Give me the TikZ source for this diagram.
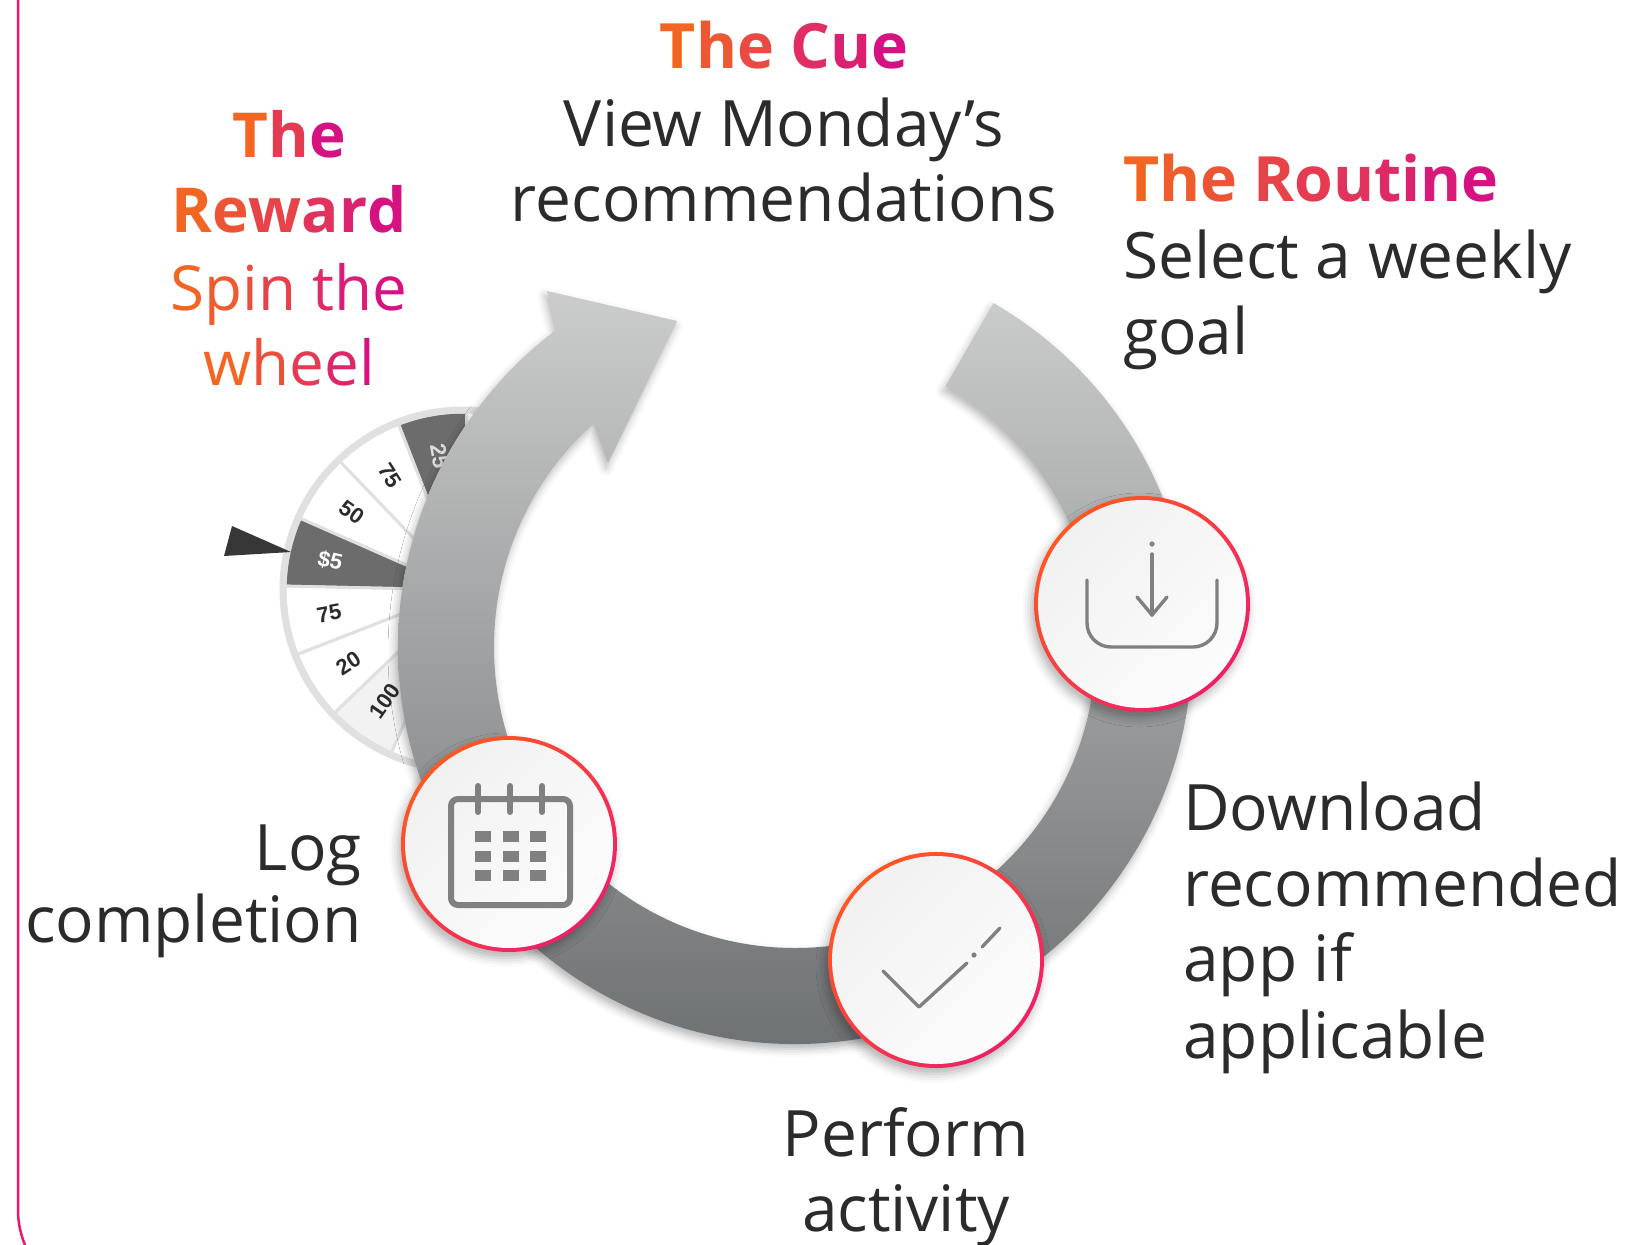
\documentclass[tikz,border=0pt]{standalone}
\usepackage{fontspec}
\setmainfont{Open Sans}
\newfontfamily\wheelfont{Liberation Sans}
\usetikzlibrary{calc,shadows.blur}

\definecolor{warmorange}{RGB}{243,101,35}
\definecolor{hotpink}{RGB}{214,18,130}
\definecolor{bodytext}{RGB}{43,43,43}
\definecolor{framepink}{RGB}{237,22,104}
\definecolor{ringtop}{RGB}{203,204,204}
\definecolor{ringbottom}{RGB}{104,107,109}
\definecolor{icongray}{RGB}{128,128,128}
\definecolor{badgeorange}{RGB}{255,87,34}
\definecolor{badgepink}{RGB}{240,30,105}
\definecolor{faceA}{RGB}{241,241,241}
\definecolor{faceB}{RGB}{252,252,252}
\definecolor{wheeldark}{RGB}{108,108,108}
\definecolor{wheelrim}{RGB}{224,224,224}
\definecolor{wheellight}{RGB}{242,242,242}
\definecolor{pointerdark}{RGB}{55,55,55}

\newcommand\bodysize{\fontsize{64}{75}\selectfont}
\newcommand\titlesize{\bfseries\fontsize{62.5}{75}\selectfont}
\newcommand\rewardbold{\bfseries\fontsize{62}{75}\selectfont}
\newcommand\rewardsize{\fontsize{62}{75}\selectfont}

% colour each character of a line along an orange-to-pink ramp
\ExplSyntaxOn
\int_new:N \l_ramp_count_int
\int_new:N \l_ramp_index_int
\int_new:N \l_ramp_pct_int
\tl_new:N \l_ramp_text_tl
\NewDocumentCommand \ramptext { m }
  {
    \tl_set:Nn \l_ramp_text_tl {#1}
    \tl_replace_all:Nnn \l_ramp_text_tl { ~ } { \  }
    \int_set:Nn \l_ramp_count_int { \tl_count:N \l_ramp_text_tl }
    \int_zero:N \l_ramp_index_int
    \tl_map_inline:Nn \l_ramp_text_tl
      {
        \int_set:Nn \l_ramp_pct_int
          { \int_div_round:nn { 100 * \l_ramp_index_int } { \int_max:nn {1} { \l_ramp_count_int - 1 } } }
        \color{hotpink!\int_use:N \l_ramp_pct_int!warmorange}##1
        \int_incr:N \l_ramp_index_int
      }
  }
\ExplSyntaxOff

\tikzset{
  bodytxt/.style={inner sep=0pt, text=bodytext, font=\bodysize},
  ramptxt/.style={inner sep=0pt},
  ringbody/.style={top color=ringtop, bottom color=ringbottom,
    blur shadow={shadow xshift=-2pt, shadow yshift=-5pt, shadow blur radius=8pt, shadow opacity=30}},
  badge/.style={circle, inner sep=0pt, minimum size=216pt,
    top color=badgeorange, bottom color=badgepink, shading angle=45,
    blur shadow={shadow xshift=-3pt, shadow yshift=-6pt, shadow blur radius=9pt, shadow opacity=30}},
  badgeface/.style={top color=faceA, bottom color=faceB, shading angle=45},
  iconline/.style={draw=icongray, line width=3.4pt, line cap=round, line join=round},
  calline/.style={draw=icongray, line width=6pt, line cap=round},
  wheelseg/.style={draw=wheelrim, line width=3pt},
  wheellabel/.style={inner sep=0pt, font=\wheelfont\bfseries\fontsize{22}{22}\selectfont},
}

\begin{document}
\begin{tikzpicture}[x=1pt, y=1pt]
  \clip (0,0) rectangle (1628,-1245);

  % frame edge on the left
  \draw[framepink, line width=2.5pt] (18,5) -- (18,-1210) arc[start angle=180, end angle=240, radius=91];

  \coordinate (C) at (795,-647);
  \coordinate (W) at (463,-590);

  % prize wheel, visible only outside the loop
  \begin{scope}[even odd rule]
    \clip (0,0) rectangle (1628,-1245) (C) circle (397);
    \begin{scope}[nonzero rule]
    \foreach \ang/\fillc/\lbl/\lblc [count=\i] in
      {100/wheeldark/25/wheelrim, 122.5/white/75/bodytext, 145/white/50/bodytext,
       167.5/wheeldark/\$5/white, 190/white/75/bodytext, 212.5/white/20/bodytext,
       235/wheellight/100/bodytext, 257.5/white//bodytext, 280/white//bodytext,
       302.5/white//bodytext, 325/white//bodytext, 347.5/white//bodytext,
       10/white//bodytext, 32.5/white//bodytext, 55/white//bodytext, 77.5/white//bodytext}
    {
      \filldraw[wheelseg, fill=\fillc] (W) -- ++({\ang-11.25}:178)
        arc[start angle={\ang-11.25}, end angle={\ang+11.25}, radius=178] -- cycle;
      \node[wheellabel, text=\lblc, rotate={\ang-180}] (wheel-\i) at ($(W)+({\ang}:136)$) {\lbl};
    }
    \draw[wheelrim, line width=7pt] (W) circle (180);
    \fill[pointerdark] (232,-526) -- (291,-552) -- (224,-556) -- cycle;
    \end{scope}
  \end{scope}

  % the habit loop arrow
  \path[ringbody] ($(C)+(60:397)$) arc[start angle=60, end angle=-233, radius=397]
    -- (547,-291) -- (677,-321) -- (608,-463)
    -- ($(C)+(-228:301)$) arc[start angle=-228, end angle=60, radius=301] -- cycle;

  % step badges
  \node[badge] (dl) at (1142,-604) {};
  \node[badge] (chk) at (936,-960) {};
  \node[badge] (cal) at (509,-844) {};
  \foreach \b in {dl,chk,cal} \shade[badgeface] (\b.center) circle (104);

  % download icon
  \begin{scope}[shift={(dl.center)}]
    \draw[iconline, rounded corners=24pt] (-55,24) -- (-55,-43) -- (75,-43) -- (75,24);
    \draw[iconline] (10,50) -- (10,-11);
    \draw[iconline] (-5,7) -- (10,-11) -- (25,7);
    \fill[icongray] (10,60) circle (2.6);
  \end{scope}

  % check icon
  \begin{scope}[shift={(chk.center)}]
    \draw[iconline] (-53,-11) -- (-17,-47) -- (31,-3);
    \fill[icongray] (38,5) circle (2.6);
    \draw[iconline] (46,13) -- (64,32);
  \end{scope}

  % calendar icon
  \begin{scope}[shift={(cal.center)}]
    \draw[calline, rounded corners=7pt] (-58,45) rectangle (61,-61);
    \foreach \x in {-31,1,33} \draw[calline] (\x,58) -- (\x,32);
    \foreach \x in {-34,-6,21} \foreach \y in {13,-7,-26}
      \fill[icongray] (\x,\y) rectangle ++(16,-11);
  \end{scope}

  % headings and step labels
  \node[ramptxt, font=\titlesize, anchor=base] (cuehead) at (784,-68) {\ramptext{The Cue}};
  \node[bodytxt, anchor=base] (cue1) at (784,-146) {View Monday’s};
  \node[bodytxt, anchor=base] (cue2) at (784,-221) {recommendations};

  \node[ramptxt, font=\rewardbold, anchor=base] (rewhead1) at (289,-157) {\ramptext{The}};
  \node[ramptxt, font=\rewardbold, anchor=base] (rewhead2) at (289,-232) {\ramptext{Reward}};
  \node[ramptxt, font=\rewardsize, anchor=base] (rewtext1) at (289,-310) {\ramptext{Spin the}};
  \node[ramptxt, font=\rewardsize, anchor=base] (rewtext2) at (289,-385) {\ramptext{wheel}};

  \node[ramptxt, font=\titlesize, anchor=base west] (routhead) at (1123,-201) {\ramptext{The Routine}};
  \node[bodytxt, anchor=base west] (rout1) at (1123,-278) {Select a weekly};
  \node[bodytxt, anchor=base west] (rout2) at (1123,-354) {goal};

  \node[bodytxt, anchor=base west] (dltxt1) at (1183,-830) {Download};
  \node[bodytxt, anchor=base west] (dltxt2) at (1183,-906) {recommended};
  \node[bodytxt, anchor=base west] (dltxt3) at (1183,-981) {app if};
  \node[bodytxt, anchor=base west] (dltxt4) at (1183,-1058) {applicable};

  \node[bodytxt, anchor=base] (act1) at (906,-1156) {Perform};
  \node[bodytxt, anchor=base] (act2) at (906,-1231) {activity};

  \node[bodytxt, anchor=base east] (log1) at (362,-870) {Log};
  \node[bodytxt, anchor=base east] (log2) at (362,-942) {completion};
\end{tikzpicture}
\end{document}
